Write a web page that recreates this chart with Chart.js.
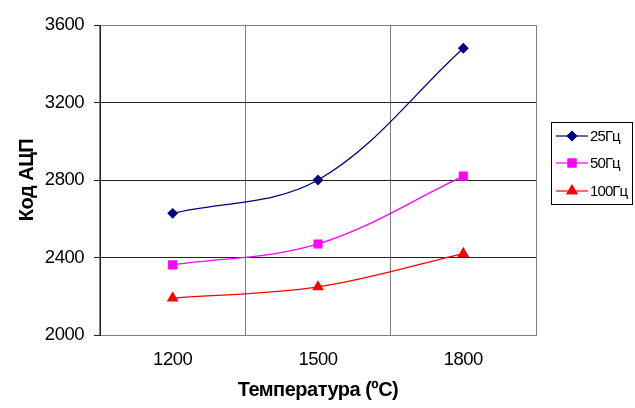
<!DOCTYPE html>
<html>
<head>
<meta charset="utf-8">
<script src="https://cdn.jsdelivr.net/npm/chart.js@4/dist/chart.umd.min.js"></script>
<style>
html,body{margin:0;padding:0;background:#fff;}
#wrap{width:635px;height:408px;position:relative;}
</style>
</head>
<body>
<div id="wrap"><canvas id="c" width="635" height="408"></canvas></div>
<script>
const categories = ['1200', '1500', '1800'];
const series25 = [2628, 2800, 3480];
const series50 = [2362, 2470, 2820];
const series100 = [2190, 2248, 2420];
const seriesNames = ['25Гц', '50Гц', '100Гц'];
const yTicks = [2000, 2400, 2800, 3200, 3600];
const xTitle = 'Температура (ºC)';
const yTitle = 'Код АЦП';

const FONT = "'Liberation Sans', Arial, sans-serif";

const spacingPlugin = {
  id: 'tightText',
  beforeDraw(chart) { chart.ctx.letterSpacing = '-0.5px'; }
};

const legendPlugin = {
  id: 'boxLegend',
  afterDraw(chart) {
    const ctx = chart.ctx;
    ctx.save();
    const bx = 551.5, by = 122.5, bw = 81, bh = 82;
    ctx.strokeStyle = '#000';
    ctx.lineWidth = 1;
    ctx.strokeRect(bx, by, bw, bh);
    const rows = [136, 163, 191];
    chart.data.datasets.forEach((ds, i) => {
      const y = rows[i];
      ctx.strokeStyle = ds.borderColor;
      ctx.lineWidth = 1.2;
      ctx.beginPath();
      ctx.moveTo(556, y);
      ctx.lineTo(588, y);
      ctx.stroke();
      Chart.helpers.drawPoint(ctx, {
        pointStyle: ds.pointStyle, radius: ds.pointRadius, rotation: 0, borderWidth: 1
      }, 572, y);
      ctx.fillStyle = ds.backgroundColor;
      ctx.strokeStyle = ds.borderColor;
      ctx.fill();
      ctx.stroke();
      ctx.fillStyle = '#000';
      ctx.font = '15px ' + FONT;
      ctx.letterSpacing = '-0.9px';
      ctx.textBaseline = 'middle';
      ctx.textAlign = 'left';
      ctx.fillText(ds.label, 590, y + 1);
    });
    const a = chart.chartArea;
    ctx.strokeStyle = '#808080';
    ctx.lineWidth = 1;
    ctx.beginPath();
    ctx.moveTo(Math.round(a.left) + 0.5, Math.round(a.top) + 0.5);
    ctx.lineTo(Math.round(a.right) + 0.5, Math.round(a.top) + 0.5);
    ctx.stroke();
    ctx.restore();
  }
};

const mk = (label, data, color, style, r) => ({
  label, data,
  borderColor: color, backgroundColor: color,
  borderWidth: 1.3,
  pointStyle: style, pointRadius: r, pointHoverRadius: r,
  pointBorderColor: color, pointBackgroundColor: color,
  tension: 0.35, fill: false
});

new Chart(document.getElementById('c'), {
  type: 'line',
  data: {
    labels: categories,
    datasets: [
      mk(seriesNames[0], series25, '#000080', 'rectRot', 4.5),
      mk(seriesNames[1], series50, '#FF00FF', 'rect', 5.5),
      mk(seriesNames[2], series100, '#FF0000', 'triangle', 5.5)
    ]
  },
  options: {
    responsive: false,
    animation: false,
    layout: { padding: { left: 0, right: 99, top: 25, bottom: 0 } },
    plugins: { legend: { display: false }, tooltip: { enabled: false } },
    scales: {
      x: {
        type: 'category',
        offset: true,
        grid: { offset: true, color: '#808080', lineWidth: 1, drawTicks: false },
        border: { color: '#808080', width: 1 },
        ticks: { color: '#000', font: { family: FONT, size: 18.5 }, padding: 14, maxRotation: 0 },
        title: { display: true, text: xTitle, color: '#000', font: { family: FONT, size: 20, weight: 'bold' }, padding: { top: 0, bottom: 6 } },
        afterFit(s) { s.height = 73; }
      },
      y: {
        min: 2000, max: 3600,
        afterBuildTicks(s) { s.ticks = yTicks.map(v => ({ value: v })); },
        grid: {
          color: (c) => (c.tick && (c.tick.value === 3600 || c.tick.value === 2000)) ? '#808080' : '#222',
          tickColor: '#222',
          tickLength: 6, lineWidth: 1
        },
        border: { color: '#222', width: 1 },
        ticks: { color: '#000', font: { family: FONT, size: 18.5 }, padding: 10, callback: (v) => String(v) },
        title: { display: true, text: yTitle, color: '#000', font: { family: FONT, size: 20, weight: 'bold' }, padding: { top: 15, bottom: 0 } },
        afterFit(s) { s.width = 100; }
      }
    }
  },
  plugins: [spacingPlugin, legendPlugin]
});
</script>
</body>
</html>
